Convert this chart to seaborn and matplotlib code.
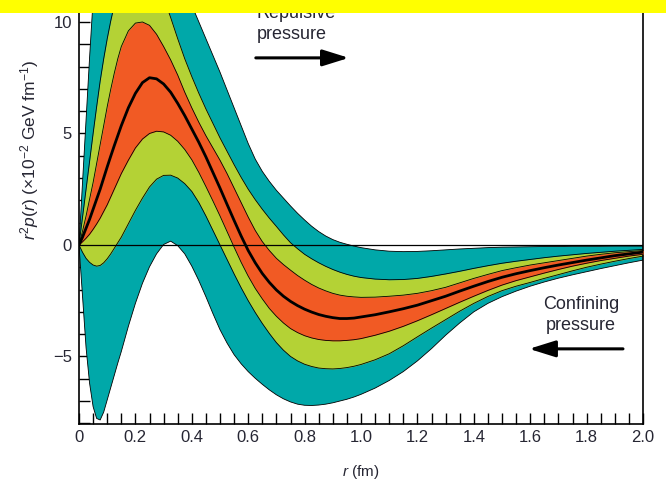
import matplotlib
matplotlib.use("Agg")
import matplotlib.pyplot as plt
from matplotlib.ticker import MultipleLocator, FuncFormatter
from matplotlib.patches import Rectangle
import pandas as pd
import seaborn as sns

# radial distance (fm)
r = [0, 0.0125, 0.025, 0.0375, 0.05, 0.0625, 0.075, 0.0875, 0.1, 0.1125,
     0.125, 0.1375, 0.15, 0.175, 0.2, 0.225, 0.25, 0.275, 0.3, 0.325,
     0.35, 0.375, 0.4, 0.425, 0.45, 0.475, 0.5, 0.525, 0.55, 0.575,
     0.6, 0.625, 0.65, 0.675, 0.7, 0.725, 0.75, 0.775, 0.8, 0.825,
     0.85, 0.875, 0.9, 0.925, 0.95, 0.975, 1.0, 1.05, 1.1, 1.15,
     1.2, 1.25, 1.3, 1.35, 1.4, 1.45, 1.5, 1.55, 1.6, 1.65,
     1.7, 1.75, 1.8, 1.85, 1.9, 1.95, 2.0]

# r^2 p(r), central result (x 10^-2 GeV fm^-1)
central = [0, 0.35, 0.75, 1.15, 1.6, 2.05, 2.5, 3.0, 3.5, 3.98,
           4.45, 4.9, 5.35, 6.15, 6.8, 7.28, 7.5, 7.45, 7.22, 6.85,
           6.35, 5.8, 5.2, 4.6, 3.95, 3.25, 2.55, 1.82, 1.1, 0.4,
           -0.25, -0.8, -1.28, -1.68, -2.02, -2.3, -2.53, -2.72, -2.88, -3.01,
           -3.12, -3.2, -3.26, -3.3, -3.3, -3.28, -3.23, -3.13, -3.0, -2.86,
           -2.7, -2.5, -2.3, -2.07, -1.85, -1.64, -1.45, -1.29, -1.15, -1.02,
           -0.9, -0.79, -0.68, -0.58, -0.48, -0.4, -0.32]

# inner (orange) uncertainty band
orange_hi = [0, 0.62, 1.3, 2.05, 2.8, 3.65, 4.5, 5.35, 6.2, 6.98,
             7.7, 8.35, 8.9, 9.6, 9.95, 10.0, 9.85, 9.45, 8.9, 8.3,
             7.62, 6.85, 6.15, 5.5, 4.9, 4.35, 3.8, 3.2, 2.55, 1.9,
             1.25, 0.65, 0.15, -0.25, -0.6, -0.88, -1.13, -1.37, -1.58, -1.77,
             -1.93, -2.06, -2.17, -2.25, -2.3, -2.33, -2.35, -2.34, -2.3, -2.25,
             -2.17, -2.05, -1.9, -1.7, -1.5, -1.32, -1.15, -1.02, -0.9, -0.8,
             -0.7, -0.6, -0.5, -0.42, -0.35, -0.3, -0.25]
orange_lo = [0, 0.14, 0.3, 0.48, 0.7, 0.94, 1.2, 1.5, 1.8, 2.15,
             2.5, 2.85, 3.2, 3.8, 4.35, 4.75, 5.0, 5.1, 5.07, 4.92,
             4.65, 4.28, 3.82, 3.25, 2.62, 1.97, 1.3, 0.6, -0.1, -0.78,
             -1.4, -1.95, -2.42, -2.85, -3.2, -3.5, -3.75, -3.93, -4.07, -4.17,
             -4.24, -4.28, -4.3, -4.3, -4.28, -4.25, -4.2, -4.05, -3.87, -3.65,
             -3.4, -3.13, -2.85, -2.57, -2.3, -2.04, -1.8, -1.6, -1.43, -1.26,
             -1.1, -0.95, -0.82, -0.7, -0.6, -0.5, -0.42]

# middle (green) uncertainty band
green_hi = [0, 1.25, 2.5, 3.75, 5.0, 6.2, 7.35, 8.35, 9.25, 10.05,
            10.75, 11.3, 11.75, 12.35, 12.65, 12.7, 12.45, 11.9, 11.1, 10.2,
            9.25, 8.35, 7.55, 6.8, 6.1, 5.45, 4.8, 4.2, 3.6, 3.03,
            2.5, 2.03, 1.6, 1.2, 0.83, 0.45, 0.1, -0.17, -0.42, -0.62,
            -0.8, -0.96, -1.1, -1.22, -1.32, -1.4, -1.46, -1.53, -1.56, -1.55,
            -1.5, -1.41, -1.3, -1.18, -1.05, -0.93, -0.82, -0.73, -0.65, -0.57,
            -0.5, -0.44, -0.38, -0.33, -0.28, -0.24, -0.2]
green_lo = [0, -0.33, -0.6, -0.78, -0.9, -0.95, -0.92, -0.8, -0.62, -0.4,
            -0.15, 0.1, 0.35, 0.95, 1.55, 2.1, 2.6, 2.95, 3.12, 3.13,
            3.0, 2.75, 2.4, 1.9, 1.3, 0.65, 0.0, -0.65, -1.3, -1.92,
            -2.5, -3.03, -3.52, -3.97, -4.38, -4.72, -5.0, -5.2, -5.35, -5.45,
            -5.52, -5.55, -5.56, -5.54, -5.5, -5.44, -5.36, -5.15, -4.88, -4.52,
            -4.12, -3.73, -3.35, -2.97, -2.62, -2.31, -2.05, -1.85, -1.68, -1.5,
            -1.33, -1.16, -1.0, -0.86, -0.73, -0.61, -0.5]

# outer (teal) uncertainty band
teal_hi = [0, 2.8, 5.6, 8.4, 11.0, 13.0, 14.5, 15.6, 16.4, 17.0,
           17.4, 17.7, 17.9, 18.1, 18.0, 17.6, 16.9, 16.0, 14.95, 13.8,
           12.6, 11.5, 10.75, 10.0, 9.25, 8.5, 7.75, 6.95, 6.15, 5.35,
           4.55, 3.85, 3.3, 2.85, 2.45, 2.1, 1.75, 1.42, 1.12, 0.84,
           0.6, 0.4, 0.24, 0.12, 0.03, -0.05, -0.12, -0.22, -0.28, -0.3,
           -0.29, -0.26, -0.22, -0.18, -0.15, -0.12, -0.1, -0.09, -0.08, -0.07,
           -0.07, -0.06, -0.06, -0.06, -0.05, -0.05, -0.05]
teal_lo = [0, -2.3, -4.6, -6.2, -7.25, -7.78, -7.85, -7.5, -6.95, -6.4,
           -5.85, -5.3, -4.78, -3.65, -2.62, -1.72, -0.98, -0.4, 0.02, 0.17,
           -0.03, -0.4, -0.95, -1.6, -2.32, -3.08, -3.8, -4.4, -4.92, -5.33,
           -5.68, -5.98, -6.25, -6.5, -6.72, -6.9, -7.04, -7.14, -7.19, -7.2,
           -7.18, -7.14, -7.08, -7.0, -6.92, -6.82, -6.7, -6.42, -6.08, -5.68,
           -5.2, -4.65, -4.05, -3.5, -3.0, -2.62, -2.32, -2.07, -1.85, -1.66,
           -1.49, -1.34, -1.2, -1.06, -0.93, -0.8, -0.68]

x_ticks = [0, 0.2, 0.4, 0.6, 0.8, 1.0, 1.2, 1.4, 1.6, 1.8, 2.0]
y_ticks = [-5, 0, 5, 10]

TEAL = "#00a8a9"
GREEN = "#b4d235"
ORANGE = "#f15a24"
TEXT = "#262633"

sns.set_theme(style="ticks")
plt.rcParams["font.family"] = ["Liberation Sans", "DejaVu Sans"]
plt.rcParams["mathtext.fontset"] = "custom"
plt.rcParams["mathtext.rm"] = "Liberation Sans"
plt.rcParams["mathtext.it"] = "Liberation Sans:italic"

df = pd.DataFrame({
    "r": r, "central": central,
    "orange_hi": orange_hi, "orange_lo": orange_lo,
    "green_hi": green_hi, "green_lo": green_lo,
    "teal_hi": teal_hi, "teal_lo": teal_lo,
})

fig = plt.figure(figsize=(6.66, 4.83), dpi=100)
ax = fig.add_axes([79 / 666, 1 - 424 / 483, 564 / 666, (424 - 8.6) / 483])

bands = [("teal_lo", "teal_hi", TEAL), ("green_lo", "green_hi", GREEN),
         ("orange_lo", "orange_hi", ORANGE)]
for i, (lo, hi, col) in enumerate(bands):
    ax.fill_between(df["r"], df[lo], df[hi], color=col, lw=0, zorder=1 + i)
    for edge in (lo, hi):
        sns.lineplot(data=df, x="r", y=edge, ax=ax, color="black",
                     lw=0.6, estimator=None, zorder=1.5 + i)

sns.lineplot(data=df, x="r", y="central", ax=ax, color="black", lw=2.0,
             estimator=None, zorder=6)
ax.axhline(0, color="black", lw=0.9, zorder=7)

ax.set_xlim(0, 2.0)
ax.set_ylim(-8.03, 10.6)
ax.set_xticks(x_ticks)
ax.set_yticks(y_ticks)
ax.xaxis.set_minor_locator(MultipleLocator(0.05))
ax.yaxis.set_minor_locator(MultipleLocator(1))
ax.xaxis.set_major_formatter(FuncFormatter(lambda v, p: "0" if v == 0 else f"{v:.1f}"))
ax.yaxis.set_major_formatter(FuncFormatter(lambda v, p: f"{int(round(v))}".replace("-", "\u2212")))
ax.tick_params(axis="both", which="both", direction="in", length=8, width=1.0,
               color="black", top=False, right=False, labelsize=12,
               labelcolor=TEXT)
ax.tick_params(axis="x", pad=4)
ax.tick_params(axis="y", pad=5)
for s in ax.spines.values():
    s.set_linewidth(1.2)
    s.set_color("black")

ax.set_xlabel(r"$r$ (fm)", fontsize=11, color=TEXT)
ax.set_ylabel(r"$r^{2}p(r)$ ($\times$10$^{-2}$ GeV fm$^{-1}$)", fontsize=12.5, color=TEXT)
ax.yaxis.set_label_coords(-0.068, 0.66)
ax.xaxis.set_label_coords(0.5, -0.095)

# pressure annotations
ax.text(0.631, 10.17, "Repulsive", fontsize=13, color=TEXT, ha="left", va="baseline", zorder=8)
ax.text(0.631, 9.22, "pressure", fontsize=13, color=TEXT, ha="left", va="baseline", zorder=8)
ax.annotate("", xy=(0.957, 8.39), xytext=(0.627, 8.39),
            arrowprops=dict(arrowstyle="-|>,head_length=0.8,head_width=0.25",
                            mutation_scale=20, lw=2.2, color="black",
                            shrinkA=0, shrinkB=0), zorder=8)
ax.text(1.78, -2.88, "Confining", fontsize=13, color=TEXT, ha="center", va="baseline", zorder=8)
ax.text(1.78, -3.81, "pressure", fontsize=13, color=TEXT, ha="center", va="baseline", zorder=8)
ax.annotate("", xy=(1.596, -4.66), xytext=(1.929, -4.66),
            arrowprops=dict(arrowstyle="-|>,head_length=0.8,head_width=0.25",
                            mutation_scale=20, lw=2.2, color="black",
                            shrinkA=0, shrinkB=0), zorder=8)

# banner strip across the top edge
fig.add_artist(Rectangle((0, 1 - 13 / 483), 1, 13 / 483, transform=fig.transFigure,
                         facecolor="#ffff00", edgecolor="none", zorder=20))

fig.savefig("out.png", dpi=100)
